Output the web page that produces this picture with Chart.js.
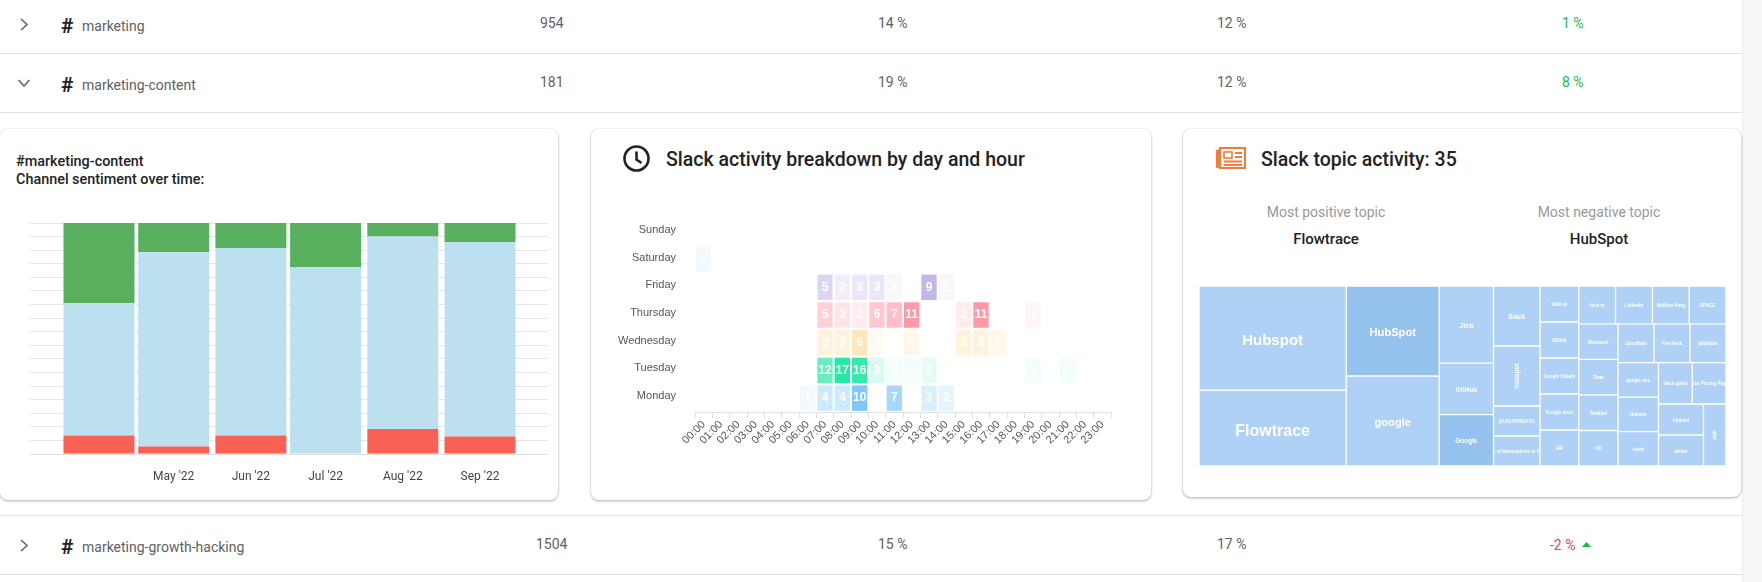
<!DOCTYPE html>
<html lang="en">
<head>
<meta charset="UTF-8">
<title>Slack channel activity</title>
<script src="https://cdn.jsdelivr.net/npm/chart.js"></script>
<style>
  html, body { margin: 0; padding: 0; background: #fff; width: 1762px; height: 582px; overflow: hidden; font-family: Roboto, sans-serif; color: #555; }
  .line { position: absolute; left: 0; width: 1742px; height: 1px; background: #e0e0e0; }
  .scroll { position: absolute; left: 1742px; top: 0; width: 20px; height: 582px; background: #f7f7f7; border-left: 1px solid #ececec; box-sizing: border-box; }
  .cell { position: absolute; font-size: 14px; line-height: 16px; white-space: nowrap; color: #616161; }
  .name { position: absolute; left: 82px; font-size: 14px; line-height: 16px; color: #616161; white-space: nowrap; }
  .hash { position: absolute; left: 61px; font-size: 21px; font-weight: 700; line-height: 20px; color: #222; }
  .up { color: #12c048; }
  .down { color: #f0405a; }
  .card { position: absolute; top: 129px; height: 371px; background: #fff; border-radius: 8px; box-shadow: 0 1px 3px rgba(0,0,0,.32), 0 0 2px rgba(0,0,0,.05); }
  .title { position: absolute; font-size: 19.5px; font-weight: 500; line-height: 24px; color: #222; white-space: nowrap; }
  .sub { position: absolute; font-size: 14.4px; font-weight: 500; line-height: 18px; color: #222; white-space: nowrap; }
  .muted { position: absolute; font-size: 14px; line-height: 16px; color: #999; white-space: nowrap; transform: translateX(-50%); }
  .topic { position: absolute; font-size: 15px; font-weight: 500; line-height: 16px; color: #222; white-space: nowrap; transform: translateX(-50%); }
  canvas { position: absolute; }
  svg { position: absolute; }
</style>
</head>
<body>
  <div class="line" style="top:53px"></div>
  <div class="line" style="top:112px"></div>
  <div class="line" style="top:515px"></div>
  <div class="line" style="top:574px"></div>
  <div class="scroll"></div>

  <svg style="left:16px;top:16px" width="16" height="16" viewBox="0 0 16 16"><path d="M5 3l6 5.5-6 5.5" fill="none" stroke="#666" stroke-width="1.6"/></svg>
  <div class="hash" style="top:16px">#</div><div class="name" style="top:18px">marketing</div>
  <div class="cell" style="left:540px;top:15px">954</div>
  <div class="cell" style="left:878px;top:15px">14 %</div>
  <div class="cell" style="left:1217px;top:15px">12 %</div>
  <div class="cell up" style="left:1562px;top:15px">1 %</div>

  <svg style="left:16px;top:75px" width="16" height="16" viewBox="0 0 16 16"><path d="M2.5 5l5.5 6 5.5-6" fill="none" stroke="#666" stroke-width="1.6"/></svg>
  <div class="hash" style="top:75px">#</div><div class="name" style="top:77px">marketing-content</div>
  <div class="cell" style="left:540px;top:74px">181</div>
  <div class="cell" style="left:878px;top:74px">19 %</div>
  <div class="cell" style="left:1217px;top:74px">12 %</div>
  <div class="cell up" style="left:1562px;top:74px">8 %</div>

  <svg style="left:16px;top:537px" width="16" height="16" viewBox="0 0 16 16"><path d="M5 3l6 5.5-6 5.5" fill="none" stroke="#666" stroke-width="1.6"/></svg>
  <div class="hash" style="top:537px">#</div><div class="name" style="top:539px">marketing-growth-hacking</div>
  <div class="cell" style="left:536px;top:536px">1504</div>
  <div class="cell" style="left:878px;top:536px">15 %</div>
  <div class="cell" style="left:1217px;top:536px">17 %</div>
  <div class="cell down" style="left:1550px;top:537px">-2 %</div>
  <svg style="left:1582px;top:541px" width="10" height="7" viewBox="0 0 10 7"><path d="M0 6h9L4.5 1z" fill="#12c048"/></svg>

  <div class="card" style="left:0;width:558px"></div>
  <div class="card" style="left:591px;width:560px"></div>
  <div class="card" style="left:1183px;width:558px;height:368px"></div>

  <div class="sub" style="left:16px;top:153px">#marketing-content<br>Channel sentiment over time:</div>

  <svg style="left:622px;top:144px" width="29" height="29" viewBox="0 0 29 29"><circle cx="14.5" cy="14.5" r="12" fill="none" stroke="#222" stroke-width="2.6"/><path d="M14.5 7.5v8l5 3.5" fill="none" stroke="#222" stroke-width="2.6"/></svg>
  <div class="title" style="left:666px;top:148px">Slack activity breakdown by day and hour</div>

  <svg style="left:1215px;top:147px" width="31" height="22" viewBox="0 0 31 22"><rect x="5" y="1" width="25" height="20" fill="none" stroke="#f47b3a" stroke-width="2"/><path d="M5 3H1.5v17.5H5" fill="#f47b3a" stroke="#f47b3a"/><rect x="9" y="5" width="8" height="6" fill="none" stroke="#f47b3a" stroke-width="1.6"/><path d="M20 6h7M20 10h7M9 14.5h18M9 18h18" stroke="#f47b3a" stroke-width="1.8"/></svg>
  <div class="title" style="left:1261px;top:148px">Slack topic activity: 35</div>
  <div class="muted" style="left:1326px;top:204px">Most positive topic</div>
  <div class="muted" style="left:1599px;top:204px">Most negative topic</div>
  <div class="topic" style="left:1326px;top:231px">Flowtrace</div>
  <div class="topic" style="left:1599px;top:231px">HubSpot</div>

  <canvas id="sentimentChart" width="518" height="262" style="left:30px;top:222px"></canvas>
  <canvas id="activityChart" width="520" height="255" style="left:600px;top:218px"></canvas>
  <canvas id="topicChart" width="527" height="180" style="left:1199px;top:286px"></canvas>

  <script>
    // sentiment per month, share of messages (%)
    const months = ["Apr '22", "May '22", "Jun '22", "Jul '22", "Aug '22", "Sep '22"];
    const monthDays = [0, 30, 61, 91, 122, 153];
    const negativeShare = [8, 3.2, 8, 0, 10.8, 7.6];
    const neutralShare = [57.3, 84.1, 81.2, 81, 83.4, 84.1];
    const positiveShare = [34.7, 12.7, 10.8, 19, 5.8, 8.3];

    // messages per day and hour
    const hours = ['00:00','01:00','02:00','03:00','04:00','05:00','06:00','07:00','08:00','09:00','10:00','11:00',
                   '12:00','13:00','14:00','15:00','16:00','17:00','18:00','19:00','20:00','21:00','22:00','23:00'];
    const dayNames = ['Monday', 'Tuesday', 'Wednesday', 'Thursday', 'Friday', 'Saturday', 'Sunday'];
    const monday =    [0,0,0,0,0,0,1,4,4,10,0,7,0,3,2,0,0,0,0,0,0,0,0,0];
    const tuesday =   [0,0,0,0,0,0,0,12,17,16,3,1,1,2,0,0,0,0,0,1,0,1,0,0];
    const wednesday = [0,0,0,0,0,0,0,3,3,6,1,0,2,0,0,3,3,2,0,0,0,0,0,0];
    const thursday =  [0,0,0,0,0,0,0,5,3,2,6,7,11,0,0,2,11,0,0,1,0,0,0,0];
    const friday =    [0,0,0,0,0,0,0,5,2,3,3,1,0,9,1,0,0,0,0,0,0,0,0,0];
    const saturday =  [1,0,0,0,0,0,0,0,0,0,0,0,0,0,0,0,0,0,0,0,0,0,0,0];
    const sunday =    [0,0,0,0,0,0,0,0,0,0,0,0,0,0,0,0,0,0,0,0,0,0,0,0];

    // topics and how often they came up, largest first
    const topicNames = ['Hubspot','Flowtrace','HubSpot','google','Jira','GitHub','Google','Slack','hubspot',
      '@U814VPN2YO1','Cost of Interruptions at Work','Wiki ok','Bitlink','Google Sheets','Google docs','HR',
      'How to','LinkedIn','Mailbox King','SPACE','Research','Time','Trinkled','UX',
      'cloudflare','Freedesk','gitlab/jira','google doc','Hubsite','slack','slack guide','Plan Pricing Page',
      'trinkled','twitter','sigir'];
    const topicCounts = [11,8,6,6,3,2,2,2,2,1,1,1,1,1,1,1,1,1,1,1,1,1,1,1,1,1,1,1,1,1,1,1,1,1,1];
    const darkTopics = ['HubSpot', 'Google'];
    const rotatedTopics = ['hubspot', 'sigir'];

    const grey = '#555';

    new Chart(document.getElementById('sentimentChart'), {
      type: 'bar',
      data: {
        datasets: [
          { label: 'Negative', data: negativeShare.map((y, i) => ({ x: monthDays[i], y })), backgroundColor: '#fa6155' },
          { label: 'Neutral', data: neutralShare.map((y, i) => ({ x: monthDays[i], y })), backgroundColor: '#bde0f0' },
          { label: 'Positive', data: positiveShare.map((y, i) => ({ x: monthDays[i], y })), backgroundColor: '#58b05f' }
        ]
      },
      options: {
        responsive: false,
        animation: false,
        layout: { padding: { top: 1 } },
        plugins: { legend: { display: false }, tooltip: { enabled: false } },
        datasets: { bar: { grouped: false, categoryPercentage: 0.95, barPercentage: 1 } },
        scales: {
          x: {
            type: 'linear', stacked: true, offset: false, min: -27.7, max: 180.3,
            afterBuildTicks: s => { s.ticks = monthDays.map(value => ({ value })); },
            afterFit: s => { s.height = 30; },
            grid: { display: false },
            border: { color: '#ddd' },
            ticks: {
              autoSkip: false, maxRotation: 0, padding: 8, color: '#444',
              font: { family: 'Roboto', size: 12 },
              callback: v => (v === 0 ? '' : months[monthDays.indexOf(v)])
            }
          },
          y: {
            stacked: true, min: 0, max: 100,
            grid: { color: '#e6e6e6', lineWidth: 1, drawTicks: false },
            border: { display: false },
            ticks: { display: false, count: 18 },
            afterFit: s => { s.width = 0; }
          }
        }
      }
    });

    // number inside each heatmap cell
    const cellLabels = {
      id: 'cellLabels',
      afterDatasetsDraw(chart) {
        const ctx = chart.ctx;
        ctx.save();
        ctx.fillStyle = '#fff';
        ctx.font = 'bold 12px "Liberation Sans", Arial, sans-serif';
        ctx.textAlign = 'center';
        ctx.textBaseline = 'middle';
        chart.data.datasets.forEach((ds, d) => {
          chart.getDatasetMeta(d).data.forEach((el, i) => {
            if (!ds.counts[i]) return;
            const c = el.getCenterPoint();
            ctx.fillText(ds.counts[i], c.x, c.y);
          });
        });
        ctx.restore();
      }
    };

    const dayColors = ['0,143,251', '0,227,150', '254,176,25', '255,69,96', '119,93,208', '0,143,251', '0,227,150'];
    const dayCounts = [monday, tuesday, wednesday, thursday, friday, saturday, sunday];

    new Chart(document.getElementById('activityChart'), {
      type: 'bar',
      plugins: [cellLabels],
      data: {
        labels: hours,
        datasets: dayCounts.map((counts, d) => ({
          label: dayNames[d],
          counts,
          data: counts.map(v => (v ? [d - 0.46, d + 0.46] : null)),
          backgroundColor: c => `rgba(${dayColors[d]},${counts[c.dataIndex] / 20})`
        }))
      },
      options: {
        responsive: false,
        animation: false,
        layout: { padding: { right: 9 } },
        plugins: { legend: { display: false }, tooltip: { enabled: false } },
        datasets: { bar: { grouped: false, categoryPercentage: 0.883, barPercentage: 1 } },
        scales: {
          x: {
            offset: true,
            afterFit: s => { s.height = 61; s.paddingLeft = 0; s.paddingRight = 0; },
            grid: { drawOnChartArea: false, offset: true, tickLength: 6, tickColor: '#e0e0e0' },
            border: { color: '#e0e0e0' },
            ticks: {
              autoSkip: false, minRotation: 45, maxRotation: 45, padding: 0, color: grey,
              font: { family: '"Liberation Sans", Arial, sans-serif', size: 11 }
            }
          },
          y: {
            min: -0.5, max: 6.5,
            afterBuildTicks: s => { s.ticks = dayNames.map((d, i) => ({ value: i })); },
            afterFit: s => { s.width = 95; s.paddingTop = 0; s.paddingBottom = 0; },
            grid: { display: false },
            border: { display: false },
            ticks: {
              autoSkip: false, padding: 11, labelOffset: -2, color: grey,
              font: { family: '"Liberation Sans", Arial, sans-serif', size: 11 },
              callback: v => dayNames[v]
            }
          }
        }
      }
    });

    // squarified treemap: turns the counts into boxes on the x/y scales
    function worstRatio(row, side) {
      const sum = row.reduce((a, b) => a + b, 0);
      const thick = sum / side;
      return Math.max(...row.map(a => Math.max(thick / (a / thick), (a / thick) / thick)));
    }

    function squarify(values, W, H) {
      const unit = W * H / values.reduce((a, b) => a + b, 0);
      const boxes = [];
      let x = 0, y = 0, w = W, h = H, i = 0;
      while (i < values.length) {
        const side = Math.min(w, h);
        const row = [values[i] * unit];
        let j = i + 1;
        while (j < values.length && worstRatio([...row, values[j] * unit], side) <= worstRatio(row, side)) {
          row.push(values[j] * unit);
          j++;
        }
        const thick = row.reduce((a, b) => a + b, 0) / side;
        let at = 0;
        row.forEach(a => {
          const len = a / thick;
          if (w >= h) boxes.push({ x0: x, x1: x + thick, y0: y + at, y1: y + at + len });
          else boxes.push({ x0: x + at, x1: x + at + len, y0: y, y1: y + thick });
          at += len;
        });
        if (w >= h) { x += thick; w -= thick; } else { y += thick; h -= thick; }
        i = j;
      }
      return boxes;
    }

    const topicLabels = {
      id: 'topicLabels',
      afterDatasetsDraw(chart) {
        const ctx = chart.ctx;
        chart.data.datasets.forEach((ds, d) => {
          const el = chart.getDatasetMeta(d).data[0];
          const size = ds.label === 'Flowtrace' ? 16 : ds.label === 'Hubspot' ? 15 : 4.55 * Math.sqrt(ds.count);
          const left = el.x - el.width / 2;
          const top = Math.min(el.y, el.base);
          const height = Math.abs(el.base - el.y);
          const rotated = rotatedTopics.includes(ds.label);
          ctx.save();
          ctx.beginPath();
          ctx.rect(left + 1, top + 1, el.width - 2, height - 2);
          ctx.clip();
          ctx.translate(el.x, top + height / 2);
          if (rotated) ctx.rotate(-Math.PI / 2);
          ctx.fillStyle = '#fff';
          ctx.font = `bold ${size}px "Liberation Sans", Arial, sans-serif`;
          ctx.textAlign = 'center';
          ctx.textBaseline = 'middle';
          ctx.fillText(ds.label, 0, rotated ? 0 : size * 0.2);
          ctx.restore();
        });
      }
    };

    const topicCanvas = document.getElementById('topicChart');
    const topicBoxes = squarify(topicCounts, topicCanvas.width, topicCanvas.height);

    new Chart(topicCanvas, {
      type: 'bar',
      plugins: [topicLabels],
      data: {
        datasets: topicBoxes.map((b, i) => ({
          label: topicNames[i],
          count: topicCounts[i],
          stack: 'topics',
          barThickness: b.x1 - b.x0,
          data: [{ x: (b.x0 + b.x1) / 2, y: [b.y0, b.y1] }],
          backgroundColor: darkTopics.includes(topicNames[i]) ? '#95c1ed' : '#afd1f5',
          borderColor: '#fff',
          borderWidth: 1,
          borderSkipped: false
        }))
      },
      options: {
        responsive: false,
        animation: false,
        plugins: { legend: { display: false }, tooltip: { enabled: false } },
        scales: {
          x: { type: 'linear', display: false, stacked: true, offset: false, min: 0, max: topicCanvas.width },
          y: { display: false, stacked: false, reverse: true, min: 0, max: topicCanvas.height }
        }
      }
    });
  </script>
</body>
</html>
